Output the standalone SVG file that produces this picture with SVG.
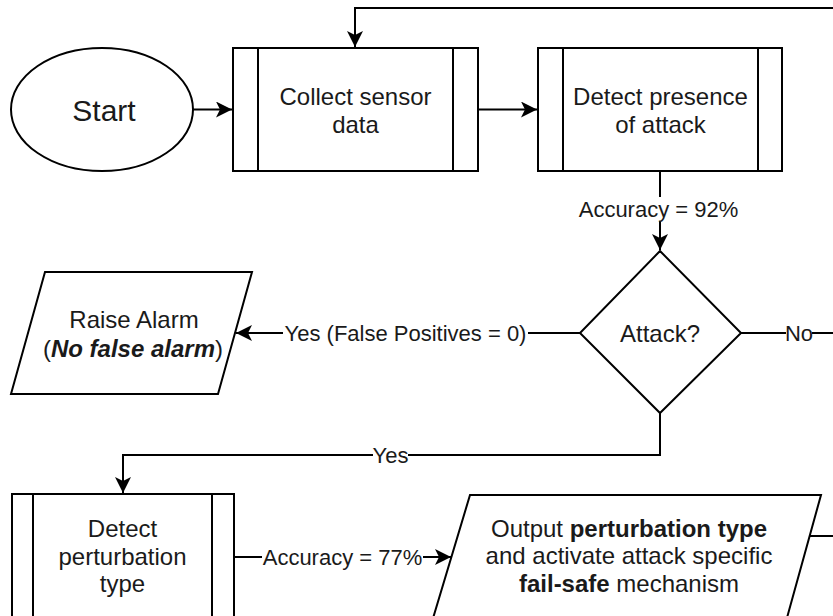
<svg xmlns="http://www.w3.org/2000/svg" width="833" height="616" viewBox="0 0 833 616">
<style>
.s{fill:#fff;stroke:#000;stroke-width:2}
.l{fill:none;stroke:#000;stroke-width:2}
.t{font-family:"Liberation Sans",Arial,sans-serif;font-size:24px;fill:#1a1a1a;text-anchor:middle}
.lb{font-family:"Liberation Sans",Arial,sans-serif;font-size:22px;fill:#1a1a1a;text-anchor:middle}
.bg{fill:#fff}
</style>
<defs>
<marker id="a" markerUnits="userSpaceOnUse" markerWidth="18" markerHeight="16" refX="16" refY="8" orient="auto">
<path d="M0,0 L16,8 L0,16 L4,8 Z" fill="#000"/>
</marker>
</defs>
<rect width="833" height="616" fill="#fff"/>
<g id="connectors">
<path class="l" d="M840 8 H355 V47" marker-end="url(#a)"/>
<path class="l" d="M193 109.5 H232" marker-end="url(#a)"/>
<path class="l" d="M478 109.5 H537" marker-end="url(#a)"/>
<path class="l" d="M660 171 V250" marker-end="url(#a)"/>
<path class="l" d="M580 333 H236" marker-end="url(#a)"/>
<path class="l" d="M741 333 H840"/>
<path class="l" d="M660 413 V455 H123 V493" marker-end="url(#a)"/>
<path class="l" d="M234 557 H451" marker-end="url(#a)"/>
<path class="l" d="M809.5 536 H840"/>
<rect class="bg" x="578" y="197" width="161" height="24"/>
<text class="lb" x="658.5" y="216.5">Accuracy = 92%</text>
<rect class="bg" x="283" y="321" width="245" height="24"/>
<text class="lb" x="405.5" y="340.5">Yes (False Positives = 0)</text>
<rect class="bg" x="786" y="321" width="26" height="24"/>
<text class="lb" x="799" y="340.5">No</text>
<rect class="bg" x="373" y="443" width="35" height="24"/>
<text class="lb" x="390.5" y="462.5">Yes</text>
<rect class="bg" x="262" y="545" width="161" height="24"/>
<text class="lb" x="342.5" y="564.5">Accuracy = 77%</text>
</g>
<g id="start">
<ellipse class="s" cx="102" cy="109.5" rx="91" ry="61.5"/>
<text class="t" x="104" y="120.5" style="font-size:30px">Start</text>
</g>
<g id="collect">
<rect class="s" x="233" y="48" width="245" height="123"/>
<path class="l" d="M258 48 V171 M453 48 V171"/>
<text class="t" x="355.5" y="105">Collect sensor</text>
<text class="t" x="355.5" y="133">data</text>
</g>
<g id="detect-presence">
<rect class="s" x="538" y="48" width="244" height="123"/>
<path class="l" d="M563 48 V171 M758 48 V171"/>
<text class="t" x="660.5" y="105">Detect presence</text>
<text class="t" x="660.5" y="133">of attack</text>
</g>
<g id="attack">
<polygon class="s" points="660,251 741,333 660,413 580,333"/>
<text class="t" x="660" y="342">Attack?</text>
</g>
<g id="raise-alarm">
<polygon class="s" points="45,272 252,272 218,394 11,394"/>
<text class="t" x="134" y="328">Raise Alarm</text>
<text class="t" x="133" y="357">(<tspan font-weight="bold" font-style="italic">No false alarm</tspan>)</text>
</g>
<g id="detect-perturbation">
<rect class="s" x="12" y="494" width="222" height="135"/>
<path class="l" d="M33 494 V630 M212 494 V630"/>
<text class="t" x="122.5" y="537">Detect</text>
<text class="t" x="122.5" y="565">perturbation</text>
<text class="t" x="122.5" y="592">type</text>
</g>
<g id="output">
<polygon class="s" points="470,495 821,495 785,625 431,625"/>
<text class="t" x="629" y="537">Output <tspan font-weight="bold">perturbation type</tspan></text>
<text class="t" x="629" y="564">and activate attack specific</text>
<text class="t" x="629" y="592"><tspan font-weight="bold">fail-safe</tspan> mechanism</text>
</g>
</svg>
